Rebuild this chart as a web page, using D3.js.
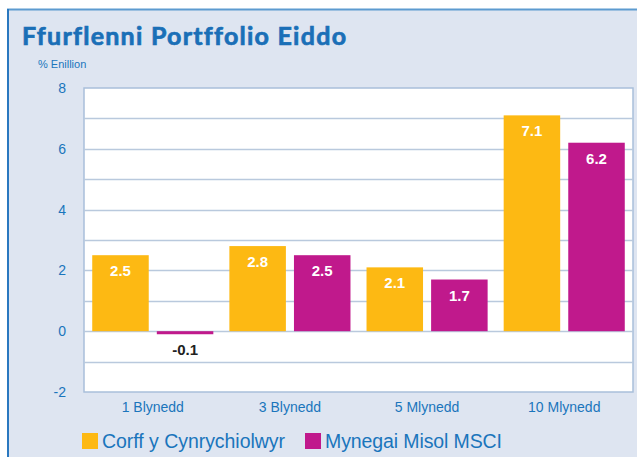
<!DOCTYPE html>
<html>
<head>
<meta charset="utf-8">
<script src="https://cdn.jsdelivr.net/npm/d3@7"></script>
<style>
  body { margin: 0; background: #fff; }
  svg { display: block; }
  .title { font-variant-ligatures: none; font-feature-settings: "liga" 0, "clig" 0; }
</style>
</head>
<body>
<script>
// data
const categories = ["1 Blynedd", "3 Blynedd", "5 Mlynedd", "10 Mlynedd"]
const seriesNames = ["Corff y Cynrychiolwyr", "Mynegai Misol MSCI"]
const corff = [2.5, 2.8, 2.1, 7.1]
const msci = [-0.1, 2.5, 1.7, 6.2]
const yTicks = [-2, 0, 2, 4, 6, 8]

const colors = ["#fdb913", "#c0198c"]
const blue = "#1a75bc"

const width = 637
const height = 457
const plot = { left: 84, right: 633, top: 88, bottom: 392 }

const svg = d3.select("body").append("svg")
  .attr("width", width)
  .attr("height", height)

// panneau de fond
svg.append("rect")
  .attr("x", 8).attr("y", 10)
  .attr("width", width).attr("height", height)
  .attr("fill", "#dee5f1")
svg.append("line")
  .attr("x1", 7).attr("x2", width).attr("y1", 9.5).attr("y2", 9.5)
  .attr("stroke", "#5d9bd0").attr("stroke-width", 2)
svg.append("line")
  .attr("x1", 8).attr("x2", 8).attr("y1", 9).attr("y2", height)
  .attr("stroke", "#2a78bf").attr("stroke-width", 2)

// titre
svg.append("text")
  .attr("class", "title")
  .attr("x", 22).attr("y", 45)
  .attr("font-family", "Lato")
  .attr("font-weight", "bold")
  .attr("font-size", 25)
  .attr("fill", "#1a6fb7")
  .attr("stroke", "#1a6fb7")
  .attr("stroke-width", 0.7)
  .attr("textLength", 324)
  .text("Ffurflenni Portffolio Eiddo")

svg.append("text")
  .attr("x", 38).attr("y", 68)
  .attr("font-family", "Liberation Sans, Arial")
  .attr("font-size", 11)
  .attr("fill", blue)
  .text("% Enillion")

// échelles
const x = d3.scaleBand()
  .domain(categories)
  .range([plot.left, plot.right])
  .paddingInner(0.117)
  .paddingOuter(0.06)

const xs = d3.scaleBand()
  .domain(seriesNames)
  .range([0, x.bandwidth()])
  .paddingInner(0.125)

const y = d3.scaleLinear()
  .domain([-2, 8])
  .range([plot.bottom, plot.top])

// zone du graphe
svg.append("rect")
  .attr("x", plot.left).attr("y", plot.top)
  .attr("width", plot.right - plot.left)
  .attr("height", plot.bottom - plot.top)
  .attr("fill", "#fff")
  .attr("stroke", "#a9bfda")
  .attr("stroke-width", 1.5)

// lignes de grille (chaque unité)
svg.append("g")
  .selectAll("line")
  .data(d3.range(-1, 8))
  .join("line")
  .attr("x1", plot.left).attr("x2", plot.right)
  .attr("y1", d => Math.round(y(d)) + 0.5)
  .attr("y2", d => Math.round(y(d)) + 0.5)
  .attr("stroke", "#b9c9dd")
  .attr("stroke-width", 1.5)

// axe y
const yAxis = svg.append("g")
  .attr("transform", `translate(${plot.left},0)`)
  .call(d3.axisLeft(y).tickValues(yTicks).tickFormat(d => String(d)).tickSize(0).tickPadding(18))
yAxis.select(".domain").remove()
yAxis.selectAll("text")
  .attr("font-family", "Liberation Sans, Arial")
  .attr("font-size", 14)
  .attr("fill", blue)

// axe x
const xAxis = svg.append("g")
  .attr("transform", `translate(0,${plot.bottom})`)
  .call(d3.axisBottom(x).tickSize(0).tickPadding(10))
xAxis.select(".domain").remove()
xAxis.selectAll("text")
  .attr("font-family", "Liberation Sans, Arial")
  .attr("font-size", 14)
  .attr("fill", blue)

// barres
const rows = categories.map((c, i) => [
  { cat: c, s: seriesNames[0], v: corff[i], color: colors[0] },
  { cat: c, s: seriesNames[1], v: msci[i], color: colors[1] }
]).flat()

const bars = svg.append("g")
bars.selectAll("rect")
  .data(rows)
  .join("rect")
  .attr("x", d => x(d.cat) + xs(d.s))
  .attr("y", d => y(Math.max(0, d.v)))
  .attr("width", xs.bandwidth())
  .attr("height", d => Math.abs(y(d.v) - y(0)))
  .attr("fill", d => d.color)

// étiquettes
bars.selectAll("text")
  .data(rows)
  .join("text")
  .attr("x", d => x(d.cat) + xs(d.s) + xs.bandwidth() / 2)
  .attr("y", d => y(d.v) + 21)
  .attr("text-anchor", "middle")
  .attr("font-family", "Liberation Sans, Arial")
  .attr("font-weight", "bold")
  .attr("font-size", 15)
  .attr("fill", d => d.v >= 0 ? "#fff" : "#222")
  .text(d => d.v.toFixed(1))

// légende
const legend = svg.append("g")
  .attr("transform", "translate(82,433)")
const lx = [0, 223]
const lw = [183, 177]
seriesNames.forEach((n, i) => {
  legend.append("rect")
    .attr("x", lx[i]).attr("y", 0)
    .attr("width", 16).attr("height", 16)
    .attr("fill", colors[i])
  legend.append("text")
    .attr("x", lx[i] + 20).attr("y", 15)
    .attr("font-family", "Liberation Sans, Arial")
    .attr("font-size", 19.5)
    .attr("fill", blue)
    .attr("textLength", lw[i])
    .text(n)
})
</script>
</body>
</html>
